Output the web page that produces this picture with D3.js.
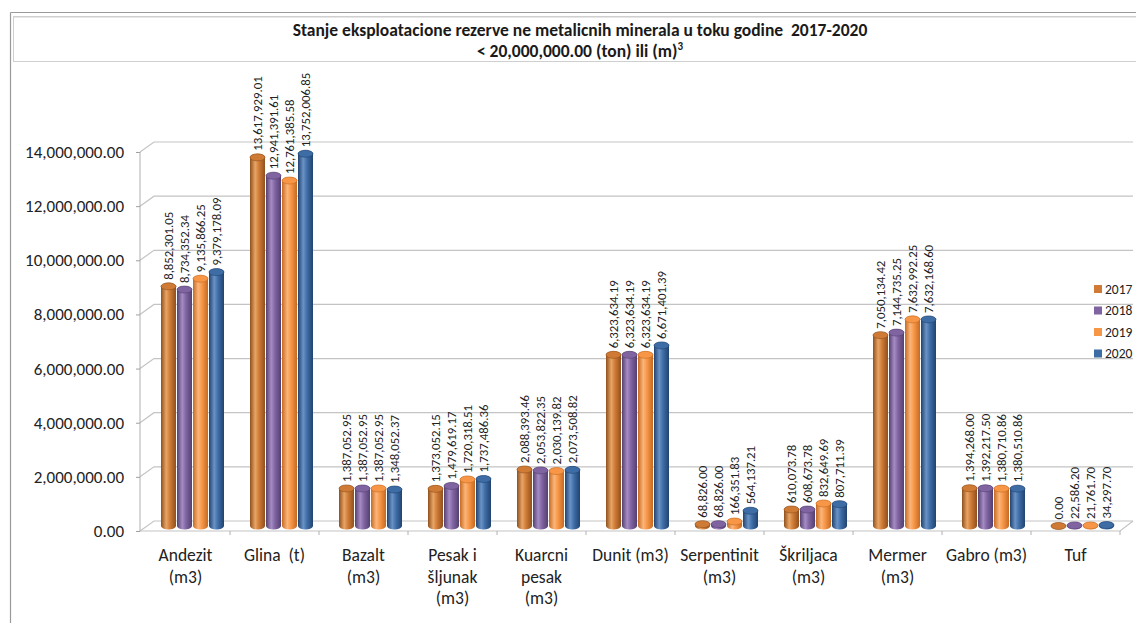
<!DOCTYPE html>
<html><head><meta charset="utf-8">
<script src="https://cdn.jsdelivr.net/npm/d3@7"></script>
<style>
html,body{margin:0;padding:0;background:#fff;}
svg{display:block;font-family:Carlito,Lato,"Open Sans",sans-serif;}
</style></head>
<body>
<svg id="chart" width="1136" height="623"></svg>
<script>
const categories = ["Andezit\n(m3)","Glina  (t)","Bazalt\n(m3)","Pesak i\nšljunak\n(m3)","Kuarcni\npesak\n(m3)","Dunit (m3)","Serpentinit\n(m3)","Škriljaca\n(m3)","Mermer\n(m3)","Gabro (m3)","Tuf"];
const years = ["2017","2018","2019","2020"];
const v2017 = [8852301.05,13617929.01,1387052.95,1373052.15,2088393.46,6323634.19,68826.00,610073.78,7050134.42,1394268.00,0.00];
const v2018 = [8734352.34,12941391.61,1387052.95,1479619.17,2053822.35,6323634.19,68826.00,608673.78,7144735.25,1392217.50,22586.20];
const v2019 = [9135866.25,12761385.58,1387052.95,1720318.51,2030139.82,6323634.19,166351.83,832649.69,7632992.25,1380710.86,21761.70];
const v2020 = [9379178.09,13752006.85,1348052.37,1737486.36,2073508.82,6671401.39,564137.21,807711.39,7632168.60,1380510.86,34297.70];
const yTicks = [0,2000000,4000000,6000000,8000000,10000000,12000000,14000000];
const seriesValues = [v2017,v2018,v2019,v2020];
const colors = [
  {base:"#CF7B36", dark:"#90501D", light:"#E8A566"},
  {base:"#8064A2", dark:"#54406F", light:"#A58CC4"},
  {base:"#F79646", dark:"#C56A22", light:"#FBB57A"},
  {base:"#3E6DA6", dark:"#22436F", light:"#6A93C6"}
];

const svg = d3.select("#chart");
const defs = svg.append("defs");
colors.forEach((c,i)=>{
  const g = defs.append("linearGradient").attr("id","g"+i).attr("x1","0").attr("x2","1").attr("y1","0").attr("y2","0");
  g.append("stop").attr("offset","0%").attr("stop-color",c.dark);
  g.append("stop").attr("offset","35%").attr("stop-color",c.light);
  g.append("stop").attr("offset","60%").attr("stop-color",c.base);
  g.append("stop").attr("offset","100%").attr("stop-color",c.dark);
});

// outer frame
svg.append("line").attr("x1",10.5).attr("x2",1136).attr("y1",12.5).attr("y2",12.5).attr("stroke","#9a9a9a").attr("stroke-width",1.2);
svg.append("line").attr("x1",10.5).attr("x2",10.5).attr("y1",12.5).attr("y2",623).attr("stroke","#9a9a9a").attr("stroke-width",1.2);
// title box
svg.append("rect").attr("x",13.5).attr("y",16.5).attr("width",1130).attr("height",45).attr("fill","#fff").attr("stroke","#cfcfcf").attr("stroke-width",1);
svg.append("line").attr("x1",14).attr("x2",1136).attr("y1",17.5).attr("y2",17.5).attr("stroke","#e6e6e6").attr("stroke-width",1);

const title = svg.append("text").attr("x",580).attr("y",36).attr("text-anchor","middle").attr("font-weight","bold").attr("font-size",17.5).attr("fill","#1a1a1a").attr("xml:space","preserve").style("white-space","pre");
title.text("Stanje eksploatacione rezerve ne metalicnih minerala u toku godine  2017-2020");
const t2 = svg.append("text").attr("x",580).attr("y",57).attr("text-anchor","middle").attr("font-weight","bold").attr("font-size",17.5).attr("fill","#1a1a1a");
t2.append("tspan").text("< 20,000,000.00 (ton) ili (m)");
t2.append("tspan").attr("font-size",11).attr("dy",-7).text("3");

const dx = 14, dy = -10;
const x0 = 141, x1 = 1120;
const y = d3.scaleLinear().domain([0,14000000]).range([531,152]);
const x = d3.scaleBand().domain(categories).range([x0,x1]).padding(0);
const xs = d3.scaleBand().domain(years).range([0,64]).padding(0);

// side & back wall gridlines
const grid = svg.append("g").attr("stroke","#c4c4c4").attr("stroke-width",1.2).attr("fill","none");
yTicks.forEach(t=>{
  const yy = y(t);
  grid.append("path").attr("d",`M${x0-1},${yy} L${x0-1+dx},${yy+dy} L1133,${yy+dy}`);
});
// floor
grid.append("path").attr("d",`M${x0-1},531 L${x1},531 L1133,521`);
// y axis line
svg.append("line").attr("x1",x0-1).attr("x2",x0-1).attr("y1",y(14000000)).attr("y2",531).attr("stroke","#b0b0b0");

// y ticks & labels
const yAxis = d3.axisLeft(y).tickValues(yTicks).tickSize(4).tickFormat(d3.format(",.2f"));
const ya = svg.append("g").attr("transform",`translate(${x0-1},0)`).call(yAxis);
ya.select(".domain").remove();
ya.selectAll("line").attr("stroke","#a0a0a0");
ya.selectAll("text").attr("font-size",17).attr("fill","#222").attr("x",-16).attr("font-family","Carlito,Lato,sans-serif");

// x ticks
const xt = svg.append("g");
categories.forEach((c,i)=>{
  const xx = x(c)+x.bandwidth();
  xt.append("line").attr("x1",xx).attr("x2",xx).attr("y1",531).attr("y2",535).attr("stroke","#b0b0b0");
});
// category labels
categories.forEach(c=>{
  const lines = c.split("\n");
  const t = svg.append("text").attr("text-anchor","middle").attr("font-size",17.5).attr("fill","#222").style("white-space","pre");
  lines.forEach((l,k)=>{
    t.append("tspan").attr("x",x(c)+x.bandwidth()/2).attr("y",561+k*21.5).text(l);
  });
});

// bars (cylinders)
const fmt = d3.format(",.2f");
const ry = 3.5;
const bw = xs.bandwidth();
const barsG = svg.append("g");
categories.forEach((c,ci)=>{
  years.forEach((yr,si)=>{
    const v = seriesValues[si][ci];
    const left = x(c) + x.bandwidth()/2 - 32 + dx/2 + xs(yr);
    const cx = left + bw/2;
    const yb = y(0) + dy/2;
    const yt = y(v) + dy/2;
    const rx = bw/2 - 0.5;
    const col = colors[si];
    const g = barsG.append("g");
    g.append("path").attr("d",
      `M${cx-rx},${yt} L${cx-rx},${yb} A${rx},${ry} 0 0 0 ${cx+rx},${yb} L${cx+rx},${yt} A${rx},${ry} 0 0 0 ${cx-rx},${yt} Z`)
      .attr("fill",`url(#g${si})`);
    g.append("ellipse").attr("cx",cx).attr("cy",yt).attr("rx",rx).attr("ry",ry).attr("fill",col.base).attr("stroke",col.dark).attr("stroke-width",0.6);
    svg.append("text").attr("transform",`translate(${cx},${yt-ry-3}) rotate(-90)`)
      .attr("text-anchor","start").attr("dy","0.35em").attr("font-size",12.8).attr("fill","#222")
      .text(fmt(v));
  });
});

// legend
const lg = svg.append("g");
years.forEach((yr,i)=>{
  const yy = 289 + i*21.5;
  lg.append("rect").attr("x",1094).attr("y",yy-4).attr("width",8).attr("height",8).attr("fill",colors[i].base);
  lg.append("text").attr("x",1105).attr("y",yy).attr("dy","0.35em").attr("font-size",13.5).attr("fill","#222").text(yr);
});
</script>
</body></html>
